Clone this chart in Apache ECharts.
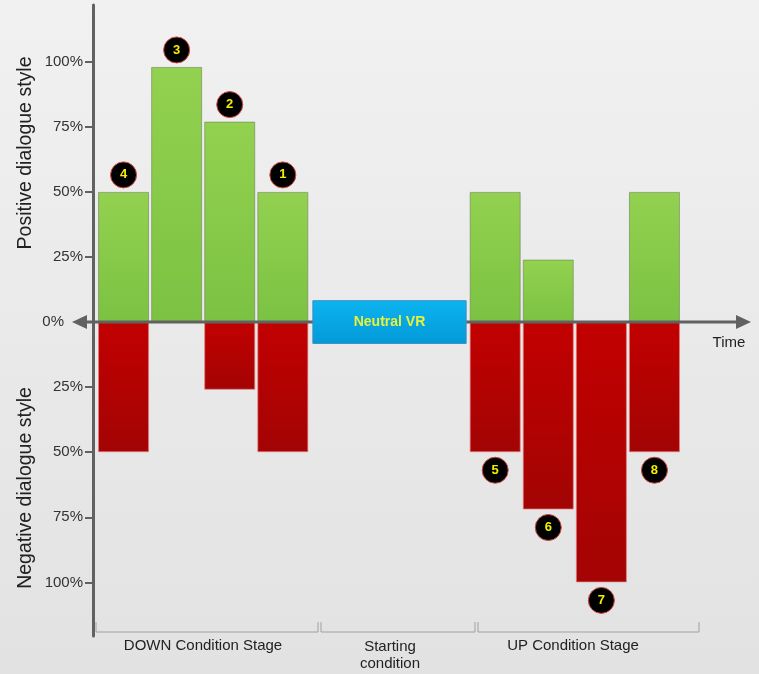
<!DOCTYPE html>
<html><head><meta charset="utf-8">
<script src="https://cdn.jsdelivr.net/npm/echarts@6/dist/echarts.min.js"></script>
<style>html,body{margin:0;padding:0;background:#fff}#c{width:759px;height:674px}</style>
</head><body><div id="c"></div>
<script>
// ---- data ----
const categories = ['D4', 'D3', 'D2', 'D1', 'N1', 'N2', 'N3', 'U5', 'U6', 'U7', 'U8'];
const positiveValues = [50, 98, 77, 50, null, null, null, 50, 24, null, 50];
const negativeValues = [-50, null, -26, -50, null, null, null, -50, -72, -100, -50];
const badgeCategories = [0, 1, 2, 3, 7, 8, 9, 10];
const badgeNumbers = ['4', '3', '2', '1', '5', '6', '7', '8'];
const badgeSides = [1, 1, 1, 1, -1, -1, -1, -1];
const yTickValues = [-100, -75, -50, -25, 0, 25, 50, 75, 100];
const neutralBox = [4, 6, -8.2, 8.2];
const neutralLabel = 'Neutral VR';
const stageLabels = ['DOWN Condition Stage', 'Starting\ncondition', 'UP Condition Stage'];
const axisNames = ['Positive dialogue style', 'Negative dialogue style'];
const timeLabel = 'Time';

// ---- chart ----
const FONT = "'Liberation Sans', Arial, sans-serif";
const chart = echarts.init(document.getElementById('c'));

const badgeData = badgeCategories.map((c, i) => {
  const v = badgeSides[i] > 0 ? positiveValues[c] : negativeValues[c];
  return {
    value: [c, v],
    symbolOffset: [0, badgeSides[i] > 0 ? -17 : 18],
    label: { formatter: badgeNumbers[i] }
  };
});

const greenFill = { type: 'linear', x: 0, y: 0, x2: 0, y2: 1,
  colorStops: [{ offset: 0, color: '#93d150' }, { offset: 1, color: '#7cc242' }] };
const redFill = { type: 'linear', x: 0, y: 0, x2: 0, y2: 1,
  colorStops: [{ offset: 0, color: '#c20000' }, { offset: 1, color: '#a30404' }] };

const option = {
  animation: false,
  backgroundColor: { type: 'linear', x: 0, y: 0, x2: 0, y2: 1,
    colorStops: [{ offset: 0, color: '#f1f1f1' }, { offset: 1, color: '#e2e2e2' }] },
  grid: { left: 97, right: 78, top: 5, bottom: 38 },
  xAxis: {
    type: 'category', data: categories,
    axisLine: { show: false }, axisTick: { show: false }, axisLabel: { show: false },
    splitLine: { show: false }
  },
  yAxis: {
    type: 'value', min: -120.6, max: 121.8, offset: 4,
    splitLine: { show: false },
    axisLine: { show: true, lineStyle: { color: '#616161', width: 3 } },
    axisTick: { show: true, length: 8, lineStyle: { color: '#616161', width: 2 },
      customValues: yTickValues.filter(v => v !== 0) },
    axisLabel: {
      customValues: yTickValues, margin: 10, color: '#333', fontSize: 15, fontFamily: FONT,
      formatter: v => v === 0 ? '{z|0%}' : Math.abs(v) + '%',
      rich: { z: { padding: [0, 19, 0, 0], fontSize: 15, color: '#333', fontFamily: FONT } }
    }
  },
  series: [
    {
      type: 'bar', data: positiveValues, barWidth: 51, barGap: '-100%', z: 2,
      itemStyle: { color: greenFill, borderColor: 'rgba(110,130,90,0.6)', borderWidth: 1 }
    },
    {
      type: 'bar', data: negativeValues, barWidth: 51, z: 2,
      itemStyle: { color: redFill, borderColor: 'rgba(230,120,120,0.7)', borderWidth: 1 }
    },
    {
      type: 'custom',
      data: [neutralBox],
      z: 5,
      renderItem: function (params, api) {
        const bw = api.size([1, 0])[0];
        const p1 = api.coord([api.value(0), api.value(3)]);
        const p2 = api.coord([api.value(1), api.value(2)]);
        const x1 = p1[0] - bw / 2 + 3.5, x2 = p2[0] + bw / 2 - 2.5;
        return {
          type: 'rect',
          shape: { x: x1, y: p1[1], width: x2 - x1, height: p2[1] - p1[1] },
          style: {
            fill: { type: 'linear', x: 0, y: 0, x2: 0, y2: 1,
              colorStops: [{ offset: 0, color: '#0cb4ef' }, { offset: 1, color: '#0499d9' }] },
            stroke: '#3a8fc4', lineWidth: 1
          },
          textContent: { style: { text: neutralLabel, fill: '#e8f23a', font: 'bold 14px ' + FONT } },
          textConfig: { position: 'inside' }
        };
      }
    },
    {
      type: 'scatter', data: badgeData, symbol: 'circle', symbolSize: 26, z: 6,
      itemStyle: { color: '#000', opacity: 1, borderColor: '#d04848', borderWidth: 1 },
      label: { show: true, position: 'inside', color: '#f2f000', fontSize: 13, fontWeight: 'bold', fontFamily: FONT }
    }
  ],
  graphic: [
    // horizontal time axis with arrows
    { type: 'line', z: 3, shape: { x1: 84, y1: 322, x2: 738, y2: 322 }, style: { stroke: '#616161', lineWidth: 3 } },
    { type: 'polygon', z: 3, shape: { points: [[72, 322], [87, 315], [87, 329]] }, style: { fill: '#616161' } },
    { type: 'polygon', z: 3, shape: { points: [[751, 322], [736, 315], [736, 329]] }, style: { fill: '#616161' } },
    { type: 'text', z: 3, x: 729, y: 343, style: { text: timeLabel, fill: '#222', font: '15px ' + FONT, textAlign: 'center', textVerticalAlign: 'middle' } },
    // axis names
    { type: 'text', z: 3, x: 26, y: 153, rotation: Math.PI / 2, style: { text: axisNames[0], fill: '#222', font: '19.5px ' + FONT, textAlign: 'center', textVerticalAlign: 'middle' } },
    { type: 'text', z: 3, x: 26, y: 488, rotation: Math.PI / 2, style: { text: axisNames[1], fill: '#222', font: '19.5px ' + FONT, textAlign: 'center', textVerticalAlign: 'middle' } },
    // stage brackets
    { type: 'polyline', z: 3, shape: { points: [[96, 622], [96, 632], [318, 632], [318, 622]] }, style: { stroke: '#a0a0a0', lineWidth: 1, fill: null } },
    { type: 'polyline', z: 3, shape: { points: [[321, 622], [321, 632], [475, 632], [475, 622]] }, style: { stroke: '#a0a0a0', lineWidth: 1, fill: null } },
    { type: 'polyline', z: 3, shape: { points: [[478, 622], [478, 632], [699, 632], [699, 622]] }, style: { stroke: '#a0a0a0', lineWidth: 1, fill: null } },
    { type: 'text', z: 3, x: 203, y: 646, style: { text: stageLabels[0], fill: '#222', font: '15px ' + FONT, textAlign: 'center', textVerticalAlign: 'middle' } },
    { type: 'text', z: 3, x: 390, y: 655, style: { text: stageLabels[1], fill: '#222', font: '15px ' + FONT, textAlign: 'center', textVerticalAlign: 'middle', lineHeight: 17 } },
    { type: 'text', z: 3, x: 573, y: 646, style: { text: stageLabels[2], fill: '#222', font: '15px ' + FONT, textAlign: 'center', textVerticalAlign: 'middle' } }
  ]
};
chart.setOption(option);
</script>
</body></html>
